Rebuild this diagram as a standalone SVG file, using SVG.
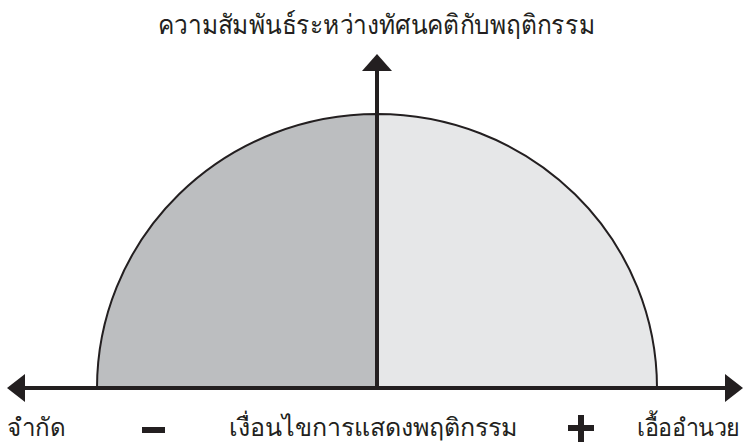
<svg xmlns="http://www.w3.org/2000/svg" width="747" height="446" viewBox="0 0 747 446">
<style>
text{font-family:"Noto Sans","DejaVu Sans",sans-serif;fill:#231f20}
.t{font-size:27px}
.b{font-size:25px}
.ax{stroke:#231f20;stroke-width:4;fill:none}
.hd{fill:#231f20}
</style>
<rect width="747" height="446" fill="#fff"/>
<g id="half-left"><path d="M97,388 A280,274 0 0 1 377,114 L377,388 Z" fill="#bcbec0" stroke="#231f20" stroke-width="2"/></g>
<g id="half-right"><path d="M377,114 A280,274 0 0 1 657,388 L377,388 Z" fill="#e6e7e8" stroke="#231f20" stroke-width="2"/></g>
<g id="connectors">
<line class="ax" x1="22" y1="388" x2="728" y2="388"/>
<polygon class="hd" points="7,388 25,374 25,402"/>
<polygon class="hd" points="743,388 725,374 725,402"/>
<line class="ax" x1="377" y1="388" x2="377" y2="68"/>
<polygon class="hd" points="377,54 362,71 392,71"/>
</g>
<g id="title"><text class="t" x="158" y="34" textLength="437" lengthAdjust="spacingAndGlyphs">ความสัมพันธ์ระหว่างทัศนคติกับพฤติกรรม</text></g>
<g id="label-left"><text class="b" x="7" y="436" textLength="58" lengthAdjust="spacingAndGlyphs">จำกัด</text></g>
<g id="minus"><rect x="142" y="427" width="23" height="6" fill="#231f20"/></g>
<g id="label-center"><text class="b" x="229" y="436" textLength="288" lengthAdjust="spacingAndGlyphs">เงื่อนไขการแสดงพฤติกรรม</text></g>
<g id="plus"><rect x="568" y="425" width="26" height="6" fill="#231f20"/><rect x="578" y="415" width="6" height="27" fill="#231f20"/></g>
<g id="label-right"><text x="637" y="436" style="font-size:24px" textLength="103" lengthAdjust="spacingAndGlyphs">เอื้ออำนวย</text></g>
</svg>
